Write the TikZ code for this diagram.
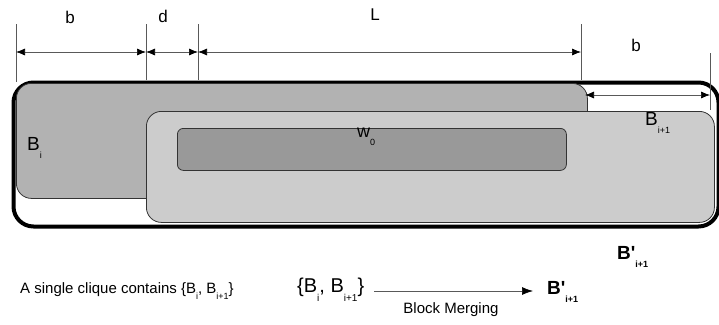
\documentclass[tikz,border=0pt]{standalone}
\usepackage{fontspec}
\setmainfont{Liberation Sans}
\usetikzlibrary{arrows.meta}
\newcommand{\subx}[1]{\raisebox{-0.45em}{\fontsize{9}{9}\selectfont #1}}
\newcommand{\subxl}[1]{\raisebox{-0.45em}{\fontsize{10}{10}\selectfont #1}}
\begin{document}
\begin{tikzpicture}[x=1pt,y=-1pt,
  box/.style={draw=black!80,line width=0.8pt,anchor=north west,inner sep=0pt},
  dimline/.style={draw=black!65,line width=0.7pt},
  dimarrow/.style={dimline,{Latex[length=9pt,width=7pt,black]}-{Latex[length=9pt,width=7pt,black]}},
  lbl/.style={font=\fontsize{17}{17}\selectfont,inner sep=0pt},
  txt/.style={font=\fontsize{15}{15}\selectfont,inner sep=0pt}]
\useasboundingbox (0,0) rectangle (719,324);
% outer box
\node[draw=black,line width=4pt,fill=white,rounded corners=20pt,anchor=north west,inner sep=0pt,
  minimum width=705pt,minimum height=144pt] (outer) at (11.5,80.5) {};
% B_i box
\node[box,fill=black!30,rounded corners=15pt,minimum width=571pt,minimum height=115pt] (bi) at (16,83) {};
% B_{i+1} box
\node[box,fill=black!20,rounded corners=15pt,minimum width=568pt,minimum height=111pt] (bi1) at (146,111) {};
% w0 box
\node[box,fill=black!40,rounded corners=6pt,minimum width=389pt,minimum height=42pt] (w0) at (177,128) {};
% labels in boxes
\node[font=\fontsize{19}{19}\selectfont,anchor=west,inner sep=0pt] (lbi) at (27,148) {B\subx{i}};
\node[font=\fontsize{18}{18}\selectfont,anchor=west,inner sep=0pt] (lw0) at (357,137) {w\subx{0}};
\node[font=\fontsize{19}{19}\selectfont,anchor=west,inner sep=0pt] (lbi1) at (645,123) {B\subx{i+1}};
% dimension ticks
\coordinate (t1a) at (16,24); \coordinate (t1b) at (16,82);
\coordinate (t2a) at (146,24); \coordinate (t2b) at (146,80);
\coordinate (t3a) at (198,24); \coordinate (t3b) at (198,80);
\coordinate (t4a) at (581,24); \coordinate (t4b) at (581,80);
\coordinate (t5a) at (710,53); \coordinate (t5b) at (710,110);
\draw[dimline] (t1a) -- (t1b);
\draw[dimline] (t2a) -- (t2b);
\draw[dimline] (t3a) -- (t3b);
\draw[dimline] (t4a) -- (t4b);
\draw[dimline] (t5a) -- (t5b);
\coordinate (a1) at (16,52); \coordinate (a2) at (146,52);
\coordinate (a3) at (198,52); \coordinate (a4) at (581,52);
\coordinate (a5) at (585,95); \coordinate (a6) at (710,95);
\draw[dimarrow] (a1) -- (a2);
\draw[dimarrow] (a2) -- (a3);
\draw[dimarrow] (a3) -- (a4);
\draw[dimarrow] (a5) -- (a6);
\node[lbl] (lb1) at (70,17) {b};
\node[lbl] (ld) at (163,16) {d};
\node[lbl] (lL) at (375,15) {L};
\node[lbl] (lb2) at (636,45) {b};
% bottom
\node[font=\fontsize{19}{19}\selectfont\bfseries,anchor=west,inner sep=0pt] (bp1) at (617,257) {B\textquotesingle\subx{i+1}};
\node[txt,anchor=west] (single) at (20,291) {A single clique contains \{B\subx{i}, B\subx{i+1}\}};
\node[font=\fontsize{20}{20}\selectfont,anchor=west,inner sep=0pt] (pair) at (297,290) {\{B\subxl{i}, B\subxl{i+1}\}};
\node[font=\fontsize{19}{19}\selectfont\bfseries,anchor=west,inner sep=0pt] (bp2) at (547,292) {B\textquotesingle\subx{i+1}};
\coordinate (m1) at (374,291); \coordinate (m2) at (533,291);
\draw[dimline,-{Latex[length=11pt,width=8pt,black]}] (m1) -- (m2);
\node[txt] (merge) at (451,310) {Block Merging};
\end{tikzpicture}
\end{document}
